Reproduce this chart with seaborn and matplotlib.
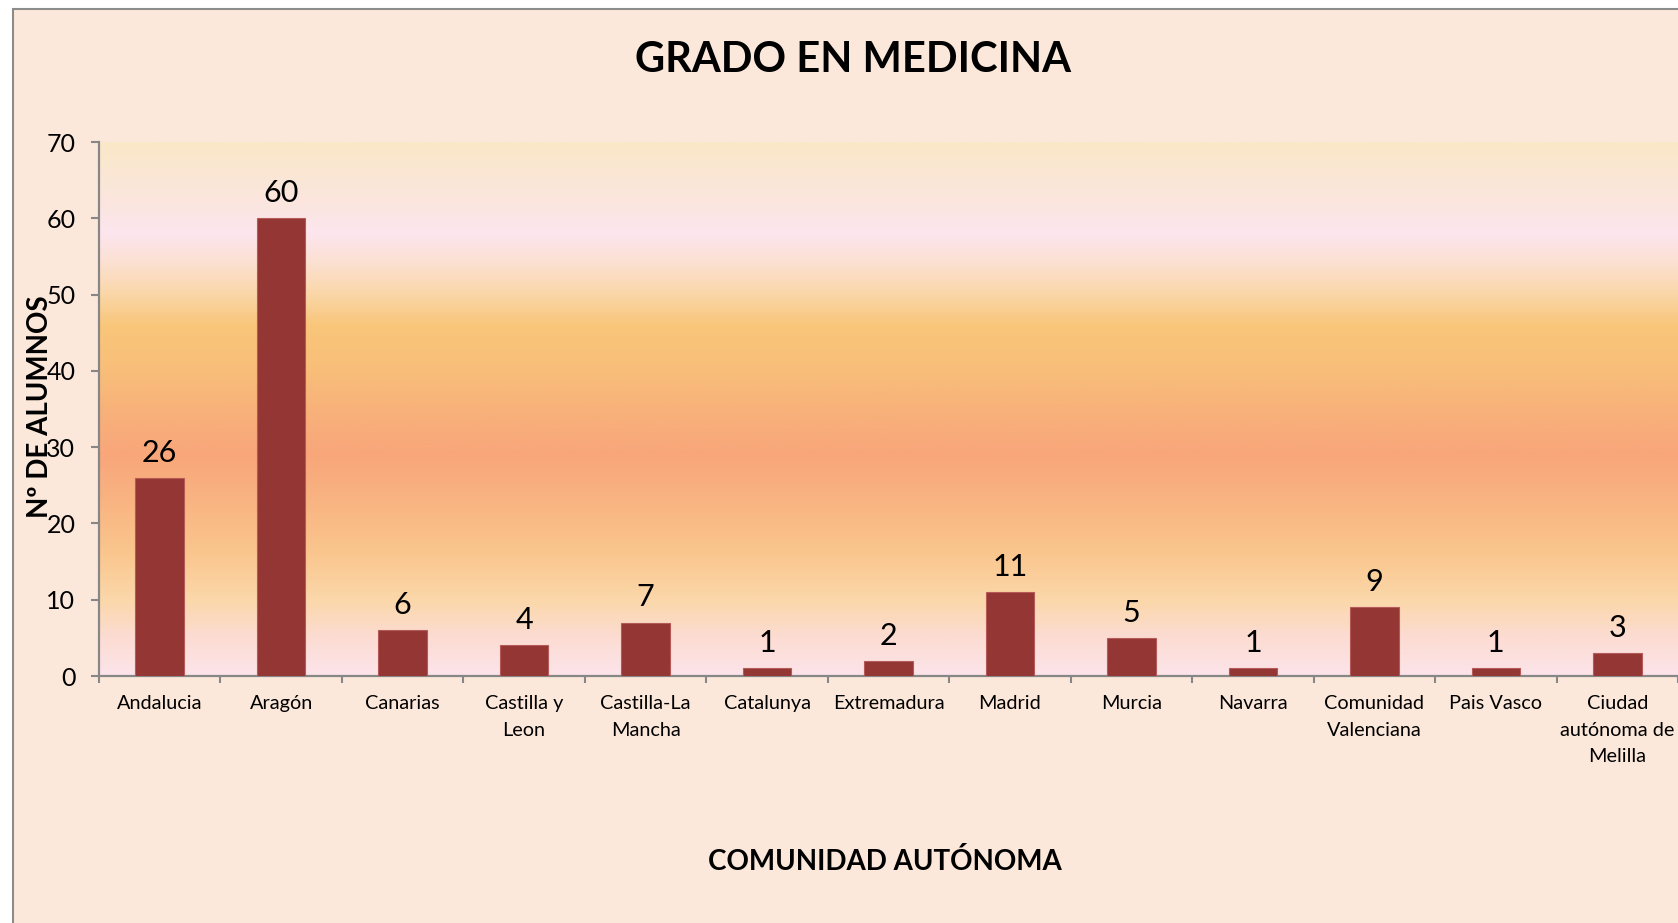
import numpy as np
import pandas as pd
import matplotlib
matplotlib.use("Agg")
import matplotlib.pyplot as plt
from matplotlib.colors import LinearSegmentedColormap
from matplotlib.patches import Rectangle
from matplotlib import font_manager
import seaborn as sns

categories = ["Andalucia", "Aragón", "Canarias", "Castilla y\nLeon", "Castilla-La\nMancha",
              "Catalunya", "Extremadura", "Madrid", "Murcia", "Navarra",
              "Comunidad\nValenciana", "Pais Vasco", "Ciudad\nautónoma de\nMelilla"]
alumnos = [26, 60, 6, 4, 7, 1, 2, 11, 5, 1, 9, 1, 3]
y_ticks = [0, 10, 20, 30, 40, 50, 60, 70]

title = "GRADO EN MEDICINA"
xlabel = "COMUNIDAD AUTÓNOMA"
ylabel = "Nº DE ALUMNOS"

sns.set_style("ticks")

# choose a Calibri-like family that has a bold face installed
preferred = ["Lato", "Open Sans", "Noto Sans", "Roboto", "Liberation Sans", "DejaVu Sans"]
bold_fams = {f.name for f in font_manager.fontManager.ttflist
             if (f.weight if isinstance(f.weight, int) else 700 if "bold" in str(f.weight).lower() else 400) >= 700}
family = next((p for p in preferred if p in bold_fams), "DejaVu Sans")
plt.rcParams["font.family"] = [family, "DejaVu Sans"]
plt.rcParams["text.color"] = "black"

W, H = 1678, 923
fig = plt.figure(figsize=(W / 100, H / 100), dpi=100)
fig.patch.set_facecolor("white")

# chart area background with border
bg = Rectangle((13 / W, -0.1), 1.2, 1 - 9 / H + 0.1, transform=fig.transFigure,
               facecolor="#FCE8DA", edgecolor="#8C8C8C", linewidth=1.5, zorder=-5)
fig.add_artist(bg)

left, right = 99 / W, 1.0
bottom, top = 1 - 676 / H, 1 - 142 / H
ax = fig.add_axes([left, bottom, right - left, top - bottom])
ax.set_facecolor("none")
ax.set_zorder(1)

df = pd.DataFrame({"cat": categories, "val": alumnos})
sns.barplot(data=df, x="cat", y="val", color="#943634", width=0.4, ax=ax,
            edgecolor="#B45A58", linewidth=0.8, saturation=1, zorder=3)

ax.set_xlim(-0.5, len(categories) - 0.5)
ax.set_ylim(0, 70)

# gradient background in plot area
stops = [(0, "#FCE4EA"), (5, "#FCDCD2"), (10, "#FBD7A9"), (16, "#FAC68E"),
         (22, "#F9B683"), (29, "#F8A67A"), (35, "#F8B27A"), (40, "#F8BE79"),
         (46, "#F9C67A"), (50, "#FAD6A6"), (54, "#FCE0CF"), (58, "#FDE5EE"),
         (63, "#FBE6DC"), (70, "#FAE8C8")]
cmap = LinearSegmentedColormap.from_list("bg", [(v / 70, c) for v, c in stops])
grad = np.linspace(0, 1, 512).reshape(-1, 1)
ax.imshow(grad, extent=[-0.5, len(categories) - 0.5, 0, 70], origin="lower",
          aspect="auto", cmap=cmap, zorder=0)

for c in ax.containers:
    ax.bar_label(c, fmt="%d", padding=8, fontsize=22, color="black", zorder=4)

sns.despine(ax=ax)
for s in ["left", "bottom"]:
    ax.spines[s].set_color("#878787")
    ax.spines[s].set_linewidth(1.6)

ax.set_yticks(y_ticks)
ax.tick_params(axis="y", length=6, width=1.5, color="#878787", pad=11, labelsize=18, labelcolor="black")
ax.set_xticks(range(len(categories)))
ax.set_xticklabels(categories, fontsize=14.3, linespacing=1.65)
ax.tick_params(axis="x", which="major", length=0, pad=14, labelcolor="black")
ax.set_xticks(np.arange(-0.5, len(categories), 1.0), minor=True)
ax.tick_params(axis="x", which="minor", length=5, width=1.5, color="#878787")
ax.set_xlabel("")
ax.set_ylabel("")

fig.text(853 / W, 1 - 60 / H, title, ha="center", va="center", fontsize=30, fontweight="bold", color="black")
fig.text(885 / W, 1 - 862 / H, xlabel, ha="center", va="center", fontsize=20, fontweight="bold", color="black")
fig.text(40 / W, 1 - 407 / H, ylabel, ha="center", va="center", rotation=90, fontsize=20,
         fontweight="bold", color="black", zorder=5)

fig.savefig("out.png", dpi=100)
